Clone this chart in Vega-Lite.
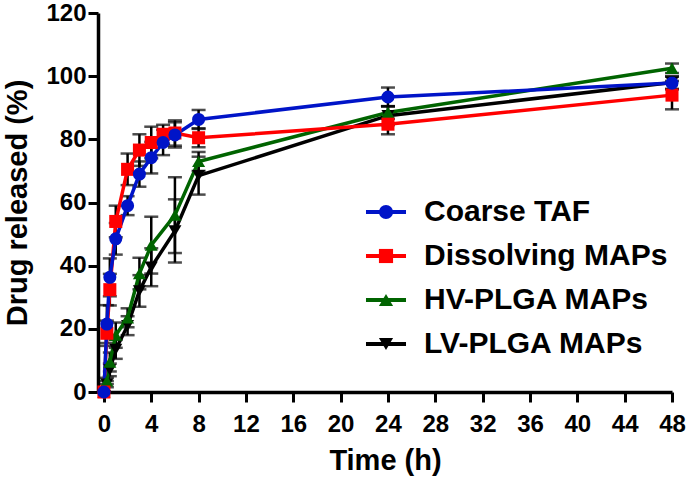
{
  "$schema": "https://vega.github.io/schema/vega-lite/v6.json",
  "autosize": "none",
  "width": 574,
  "height": 379,
  "padding": {"left": 98, "top": 13, "right": 16, "bottom": 92},
  "background": "white",
  "config": {
    "view": {"stroke": null},
    "font": "Liberation Sans",
    "axis": {
      "grid": false,
      "domainColor": "black",
      "domainWidth": 3.5,
      "tickColor": "black",
      "tickWidth": 3,
      "tickSize": 10,
      "labelColor": "black",
      "labelFont": "Liberation Sans",
      "labelFontWeight": "bold",
      "labelFontSize": 24,
      "labelFlush": false,
      "labelOverlap": false,
      "titleColor": "black",
      "titleFont": "Liberation Sans",
      "titleFontWeight": "bold",
      "titleFontSize": 29
    }
  },
  "data": {
    "values": [
      {"series": "LV-PLGA MAPs", "time": 0, "mean": 0, "sd": 0.01},
      {"series": "LV-PLGA MAPs", "time": 0.25, "mean": 2.5, "sd": 1},
      {"series": "LV-PLGA MAPs", "time": 0.5, "mean": 7, "sd": 2},
      {"series": "LV-PLGA MAPs", "time": 1, "mean": 13.5, "sd": 3},
      {"series": "LV-PLGA MAPs", "time": 2, "mean": 21, "sd": 3},
      {"series": "LV-PLGA MAPs", "time": 3, "mean": 32, "sd": 5},
      {"series": "LV-PLGA MAPs", "time": 4, "mean": 39.5, "sd": 6},
      {"series": "LV-PLGA MAPs", "time": 6, "mean": 51, "sd": 10},
      {"series": "LV-PLGA MAPs", "time": 8, "mean": 68.5, "sd": 6},
      {"series": "LV-PLGA MAPs", "time": 24, "mean": 87.5, "sd": 3},
      {"series": "LV-PLGA MAPs", "time": 48, "mean": 98, "sd": 2},
      {"series": "HV-PLGA MAPs", "time": 0, "mean": 0, "sd": 0.01},
      {"series": "HV-PLGA MAPs", "time": 0.25, "mean": 3.5, "sd": 1},
      {"series": "HV-PLGA MAPs", "time": 0.5, "mean": 9.5, "sd": 3},
      {"series": "HV-PLGA MAPs", "time": 1, "mean": 18, "sd": 4},
      {"series": "HV-PLGA MAPs", "time": 2, "mean": 23.5, "sd": 3},
      {"series": "HV-PLGA MAPs", "time": 3, "mean": 37.5, "sd": 5},
      {"series": "HV-PLGA MAPs", "time": 4, "mean": 46.5, "sd": 9},
      {"series": "HV-PLGA MAPs", "time": 6, "mean": 56, "sd": 12},
      {"series": "HV-PLGA MAPs", "time": 8, "mean": 73, "sd": 3},
      {"series": "HV-PLGA MAPs", "time": 24, "mean": 88.5, "sd": 2},
      {"series": "HV-PLGA MAPs", "time": 48, "mean": 102.5, "sd": 1.5},
      {"series": "Dissolving MAPs", "time": 0, "mean": 0, "sd": 0.01},
      {"series": "Dissolving MAPs", "time": 0.25, "mean": 18.6, "sd": 4},
      {"series": "Dissolving MAPs", "time": 0.5, "mean": 32.4, "sd": 5},
      {"series": "Dissolving MAPs", "time": 1, "mean": 54, "sd": 5},
      {"series": "Dissolving MAPs", "time": 2, "mean": 70.5, "sd": 5},
      {"series": "Dissolving MAPs", "time": 3, "mean": 76.6, "sd": 5},
      {"series": "Dissolving MAPs", "time": 4, "mean": 79, "sd": 5},
      {"series": "Dissolving MAPs", "time": 5, "mean": 81.6, "sd": 3},
      {"series": "Dissolving MAPs", "time": 6, "mean": 82, "sd": 4},
      {"series": "Dissolving MAPs", "time": 8, "mean": 80.5, "sd": 3},
      {"series": "Dissolving MAPs", "time": 24, "mean": 84.8, "sd": 3.2},
      {"series": "Dissolving MAPs", "time": 48, "mean": 94, "sd": 4.5},
      {"series": "Coarse TAF", "time": 0, "mean": 0, "sd": 0.01},
      {"series": "Coarse TAF", "time": 0.25, "mean": 21.5, "sd": 6},
      {"series": "Coarse TAF", "time": 0.5, "mean": 36.3, "sd": 6},
      {"series": "Coarse TAF", "time": 1, "mean": 48.5, "sd": 5},
      {"series": "Coarse TAF", "time": 2, "mean": 59, "sd": 3},
      {"series": "Coarse TAF", "time": 3, "mean": 69, "sd": 4},
      {"series": "Coarse TAF", "time": 4, "mean": 74.2, "sd": 5},
      {"series": "Coarse TAF", "time": 5, "mean": 79, "sd": 4},
      {"series": "Coarse TAF", "time": 6, "mean": 81.4, "sd": 4},
      {"series": "Coarse TAF", "time": 8, "mean": 86.3, "sd": 3},
      {"series": "Coarse TAF", "time": 24, "mean": 93.4, "sd": 3},
      {"series": "Coarse TAF", "time": 48, "mean": 97.8, "sd": 2}
    ]
  },
  "encoding": {
    "x": {
      "field": "time",
      "type": "quantitative",
      "scale": {"domain": [-0.5, 48], "nice": false, "zero": false},
      "axis": {"values": [0, 4, 8, 12, 16, 20, 24, 28, 32, 36, 40, 44, 48], "title": "Time (h)", "labelPadding": 10, "titlePadding": 10}
    },
    "y": {
      "field": "mean",
      "type": "quantitative",
      "scale": {"domain": [0, 120], "nice": false},
      "axis": {"values": [0, 20, 40, 60, 80, 100, 120], "title": "Drug released (%)", "labelPadding": 2, "titlePadding": 13}
    }
  },
  "layer": [
    {
      "mark": {"type": "errorbar", "color": "black", "thickness": 2.5, "ticks": {"size": 14, "thickness": 2.5, "color": "black"}},
      "encoding": {
        "yError": {"field": "sd"}
      }
    },
    {
      "mark": {"type": "line", "strokeWidth": 3.5},
      "encoding": {
        "stroke": {
          "field": "series",
          "type": "nominal",
          "scale": {
            "domain": ["Coarse TAF", "Dissolving MAPs", "HV-PLGA MAPs", "LV-PLGA MAPs"],
            "range": ["#0014C8", "#FF0000", "#006400", "#000000"]
          },
          "legend": {
            "title": null,
            "orient": "none",
            "legendX": 273,
            "legendY": 184,
            "symbolType": "M-2.83,0H2.83",
            "symbolSize": 200,
            "symbolStrokeWidth": 4,
            "labelFontSize": 30,
            "labelFont": "Liberation Sans",
            "labelFontWeight": "bold",
            "labelOpacity": 0,
            "rowPadding": 14,
            "labelOffset": 23,
            "labelLimit": 400
          }
        }
      }
    },
    {
      "mark": {"type": "point", "filled": true, "size": 170, "opacity": 1, "strokeWidth": 0},
      "encoding": {
        "fill": {
          "field": "series",
          "type": "nominal",
          "scale": {"range": ["#0014C8", "#FF0000", "#006400", "#000000"]},
          "legend": {
            "title": null,
            "orient": "none",
            "legendX": 273,
            "legendY": 184,
            "symbolSize": 200,
            "symbolStrokeWidth": 0,
            "symbolOpacity": 1,
            "labelFontSize": 30,
            "labelFont": "Liberation Sans",
            "labelFontWeight": "bold",
            "labelColor": "black",
            "rowPadding": 14,
            "labelOffset": 23,
            "labelLimit": 400
          }
        },
        "shape": {
          "field": "series",
          "type": "nominal",
          "scale": {"range": ["circle", "square", "triangle-up", "triangle-down"]}
        },
        "order": {"field": "series", "sort": "descending"}
      }
    }
  ]
}
